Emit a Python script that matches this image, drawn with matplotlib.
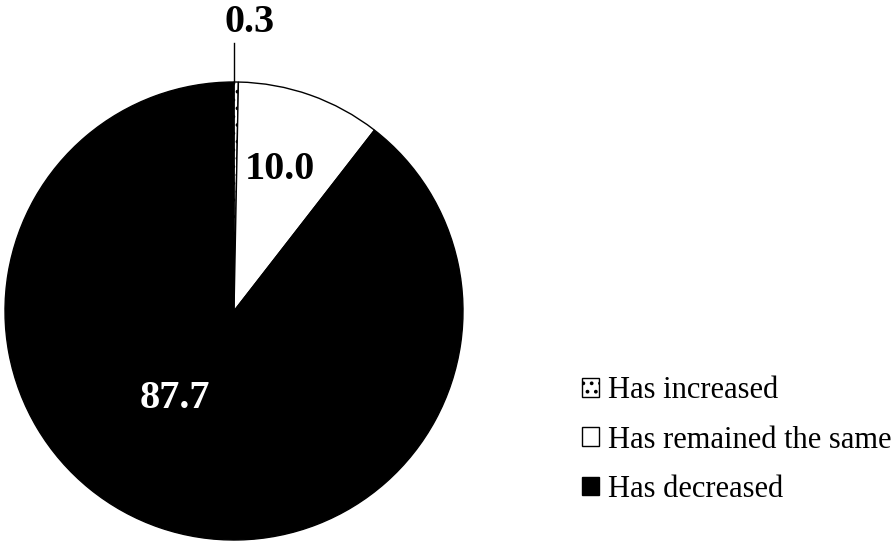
import matplotlib
matplotlib.use("Agg")
import matplotlib.pyplot as plt
from matplotlib.patches import Patch

plt.rcParams['font.family'] = ['Liberation Serif', 'DejaVu Serif']
plt.rcParams['hatch.linewidth'] = 1.5

categories = ["Has increased", "Has remained the same", "Has decreased"]
values = [0.3, 10.0, 87.7]
colors = ["white", "white", "black"]
hatches = ["..", "", ""]

fig = plt.figure(figsize=(8.94, 5.41), dpi=100)
ax = fig.add_axes([5 / 894, 1 / 541, 458 / 894, 458 / 541])

wedges, _ = ax.pie(values, colors=colors, startangle=90, counterclock=False,
                   wedgeprops=dict(edgecolor="black", linewidth=1.0))
for w, h in zip(wedges, hatches):
    w.set_hatch(h)
ax.set_xlim(-1, 1)
ax.set_ylim(-1, 1)
ax.set_aspect("equal")
ax.axis("off")

# value labels (placed by hand, like the original)
label_pos = [(0.07, 1.26), (0.20, 0.62), (-0.26, -0.38)]
label_col = ["black", "black", "white"]
for v, (x, y), c in zip(values, label_pos, label_col):
    ax.text(x, y, f"{v:.1f}", ha="center", va="center", fontsize=29,
            fontweight="bold", color=c, clip_on=False)

# leader line for the tiny slice
ax.plot([0.0, 0.0], [1.0, 1.17], color="black", lw=1.0, clip_on=False)

handles = [Patch(facecolor=c, edgecolor="black", hatch=h, linewidth=1.0)
           for c, h in zip(colors, hatches)]
fig.legend(handles, categories, loc="center left", bbox_to_anchor=(582 / 894, 1 - 440 / 541),
           frameon=False, fontsize=22, handlelength=0.55, handleheight=0.55,
           handletextpad=0.3, labelspacing=0.66, borderpad=0, borderaxespad=0)

fig.savefig("out.png", dpi=100)
